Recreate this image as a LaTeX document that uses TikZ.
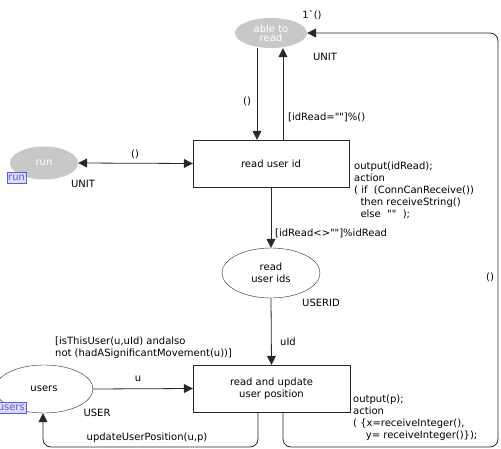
\documentclass[tikz,border=0pt]{standalone}
\usepackage{fontspec}
\setmainfont{DejaVu Sans}[Ligatures=TeXOff]
\usetikzlibrary{arrows.meta,shapes.geometric}
\definecolor{placegray}{RGB}{200,200,200}
\definecolor{tagblue}{RGB}{90,90,230}
\definecolor{tagfill}{RGB}{220,220,255}
\definecolor{linec}{RGB}{40,40,40}
\tikzset{
  lbl/.style={font=\fontsize{10}{12}\selectfont, inner sep=0pt, text=black},
  greyplace/.style={ellipse, fill=placegray, inner sep=0pt, text=white, align=center, font=\fontsize{10}{11}\selectfont},
  place/.style={ellipse, draw=linec, inner sep=0pt, align=center, font=\fontsize{10}{12}\selectfont},
  trans/.style={rectangle, draw=linec, inner sep=0pt, align=center, font=\fontsize{10}{12}\selectfont},
  arr/.style={draw=linec, line width=0.8pt, -{Triangle[length=9pt,width=9pt]}},
  darr/.style={draw=linec, line width=0.8pt, {Triangle[length=9pt,width=9pt]}-{Triangle[length=9pt,width=9pt]}},
  tagbox/.style={draw=tagblue, fill=tagfill, text=tagblue, inner xsep=1pt, inner ysep=0pt, minimum height=11pt, font=\fontsize{10}{11}\selectfont},
  code/.style={lbl, align=left, anchor=north west, font=\fontsize{10}{12}\selectfont}
}
\begin{document}
\begin{tikzpicture}[x=1pt,y=-1pt]
\useasboundingbox (0,0) rectangle (501,449);
\clip (0,0) rectangle (501,449);
% places and transitions
\node[greyplace, minimum width=72pt, minimum height=30pt] (ableread) at (271,33) {able to\\[-2pt]read};
\node[greyplace, minimum width=68pt, minimum height=33pt] (run) at (44,163) {run};
\node[trans, minimum width=156pt, minimum height=47pt] (readid) at (271,163.5) {read user id};
\node[place, minimum width=98pt, minimum height=50pt] (rids) at (271,273) {read\\user ids};
\node[place, minimum width=98pt, minimum height=48pt] (users) at (44,389) {users};
\node[trans, minimum width=157pt, minimum height=47pt] (readupd) at (271.5,388.5) {read and update\\user position};
% tags
\node[tagbox, anchor=west] (runtag) at (7,177.5) {run};
\node[tagbox, anchor=east] (userstag) at (26,407.5) {users};
% helper coordinates
\coordinate (xa) at (257,0);
\coordinate (xb) at (283,0);
\coordinate (xc) at (258,0);
\coordinate (xu) at (43,0);
\coordinate (cr1) at (283,447);
\coordinate (cr2) at (498,447);
\coordinate (cr3) at (498,33);
\coordinate (cl1) at (258,447);
\coordinate (cl2) at (43,447);
% arcs
\draw[arr] (ableread.south -| xa) -- (readid.north -| xa);
\draw[arr] (readid.north -| xb) -- (ableread.south -| xb);
\draw[darr] (run.east) -- (readid.west);
\draw[arr] (readid.south) -- (rids.north);
\draw[arr] (rids.south) -- (readupd.north);
\draw[arr] (users.east) -- (readupd.west);
\draw[arr, rounded corners=8pt] (readupd.south -| xc) -- (cl1) -- (cl2) -- (users.south -| xu);
\draw[arr, rounded corners=8pt] (readupd.south -| xb) -- (cr1) -- (cr2) -- (cr3) -- (ableread.east);
% inscriptions
\node[lbl] (initm) at (312,15) {1`()};
\node[lbl] (ut1) at (325,57) {UNIT};
\node[lbl] (a1) at (247,101) {()};
\node[lbl, anchor=west] (a2) at (288,117) {[idRead=""]\%()};
\node[lbl] (a3) at (135,154) {()};
\node[lbl] (ut2) at (83,184) {UNIT};
\node[code] (code1) at (354,162) {output(idRead);\\action\\( if\ \ (ConnCanReceive())\\\ \ then receiveString()\\\ \ else\ \ ""\ \ );};
\node[lbl, anchor=west] (a4) at (275,233) {[idRead<>""]\%idRead};
\node[lbl] (ut3) at (321,303) {USERID};
\node[lbl] (a5) at (288,342) {uId};
\node[lbl, anchor=west, align=left] (guard) at (55,347.5) {[isThisUser(u,uId) andalso\\not (hadASignificantMovement(u))]};
\node[lbl] (a6) at (138,379) {u};
\node[lbl] (ut4) at (97,413) {USER};
\node[lbl] (a7) at (147,438) {updateUserPosition(u,p)};
\node[lbl] (a8) at (490,277) {()};
\node[code] (code2) at (353,395) {output(p);\\action\\( \{x=receiveInteger(),\\\ \ \ \ y= receiveInteger()\});};
\end{tikzpicture}
\end{document}
